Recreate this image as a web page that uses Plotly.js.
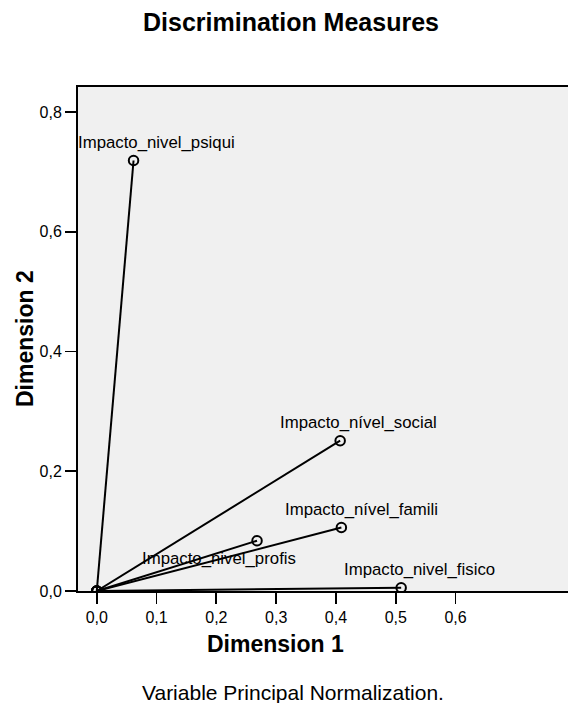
<!DOCTYPE html>
<html>
<head>
<meta charset="utf-8">
<script src="https://cdn.plot.ly/plotly-3.0.1.min.js"></script>
<style>html,body{margin:0;padding:0;overflow:hidden;background:#fff}</style>
</head>
<body>
<div id="chart" style="width:568px;height:703px"></div>
<script>
// ---- data ----
const variables = ["Impacto_nivel_psiqui", "Impacto_nível_social", "Impacto_nível_famili", "Impacto_nivel_profis", "Impacto_nivel_fisico"];
const dimension1 = [0.0615, 0.407, 0.409, 0.268, 0.509];
const dimension2 = [0.719, 0.251, 0.106, 0.084, 0.0055];
const xTickVals = [0, 0.1, 0.2, 0.3, 0.4, 0.5, 0.6];
const yTickVals = [0, 0.2, 0.4, 0.6, 0.8];
const chartTitle = "Discrimination Measures";
const xTitle = "Dimension 1";
const yTitle = "Dimension 2";
const footnote = "Variable Principal Normalization.";

// ---- styling (label offsets in px, not data) ----
const labelShift = [[23, 18], [18, 18], [20, 18], [-38, -18], [18, 18]];
const FONT = "Liberation Sans, Arial, sans-serif";
const W = 568, H = 703;
const M = {l: 78, r: 0, t: 87, b: 112};
const pw = W - M.l - M.r, ph = H - M.t - M.b;
const px2x = p => (p - M.l) / pw;
const py2y = p => (H - M.b - p) / ph;

const traces = variables.map((name, i) => ({
  type: "scatter",
  x: [0, dimension1[i]],
  y: [0, dimension2[i]],
  mode: "lines+markers",
  name: name,
  line: {color: "black", width: 2},
  marker: {symbol: "circle-open", size: 9.5, color: "black", line: {width: 2, color: "black"}},
  cliponaxis: true,
  hoverinfo: "skip",
  showlegend: false
}));

const annotations = variables.map((name, i) => ({
  x: dimension1[i], y: dimension2[i], xref: "x", yref: "y",
  text: name, showarrow: false,
  xshift: labelShift[i][0], yshift: labelShift[i][1],
  xanchor: "center", yanchor: "middle",
  font: {family: FONT, size: 16.8, color: "black"}
}));

annotations.push({
  xref: "paper", yref: "paper", x: px2x(275.3), y: py2y(644),
  text: "<b>" + xTitle + "</b>", showarrow: false, xanchor: "center", yanchor: "middle",
  font: {family: FONT, size: 23, color: "black"}
});
annotations.push({
  xref: "paper", yref: "paper", x: px2x(25), y: py2y(339),
  text: "<b>" + yTitle + "</b>", showarrow: false, textangle: -90, xanchor: "center", yanchor: "middle",
  font: {family: FONT, size: 23, color: "black"}
});
annotations.push({
  xref: "paper", yref: "paper", x: px2x(293.3), y: py2y(692),
  text: footnote, showarrow: false, xanchor: "center", yanchor: "middle",
  font: {family: FONT, size: 21, color: "black"}
});

const layout = {
  width: W, height: H,
  margin: {l: M.l, r: M.r, t: M.t, b: M.b, pad: 0},
  paper_bgcolor: "white",
  plot_bgcolor: "#F0F0F0",
  separators: ",.",
  title: {
    text: "<b>" + chartTitle + "</b>",
    x: 291 / W, xref: "container", xanchor: "center",
    y: 1 - 22 / H, yref: "container", yanchor: "middle",
    font: {family: FONT, size: 25, color: "black"}
  },
  xaxis: {
    range: [-0.0314, 0.788],
    tickvals: xTickVals, tickformat: ".1f",
    showgrid: false, zeroline: false,
    showline: true, linecolor: "black", linewidth: 2, mirror: true,
    ticks: "outside", ticklen: 11, tickwidth: 1.8, tickcolor: "black",
    tickfont: {family: FONT, size: 16, color: "black"}
  },
  yaxis: {
    range: [0, 0.8417],
    tickvals: yTickVals, tickformat: ".1f",
    showgrid: false, zeroline: false,
    showline: true, linecolor: "black", linewidth: 2, mirror: false,
    ticks: "outside", ticklen: 11, tickwidth: 1.8, tickcolor: "black",
    tickfont: {family: FONT, size: 16, color: "black"}
  },
  annotations: annotations,
  showlegend: false
};

Plotly.newPlot("chart", traces, layout, {staticPlot: true, displayModeBar: false});
</script>
</body>
</html>
